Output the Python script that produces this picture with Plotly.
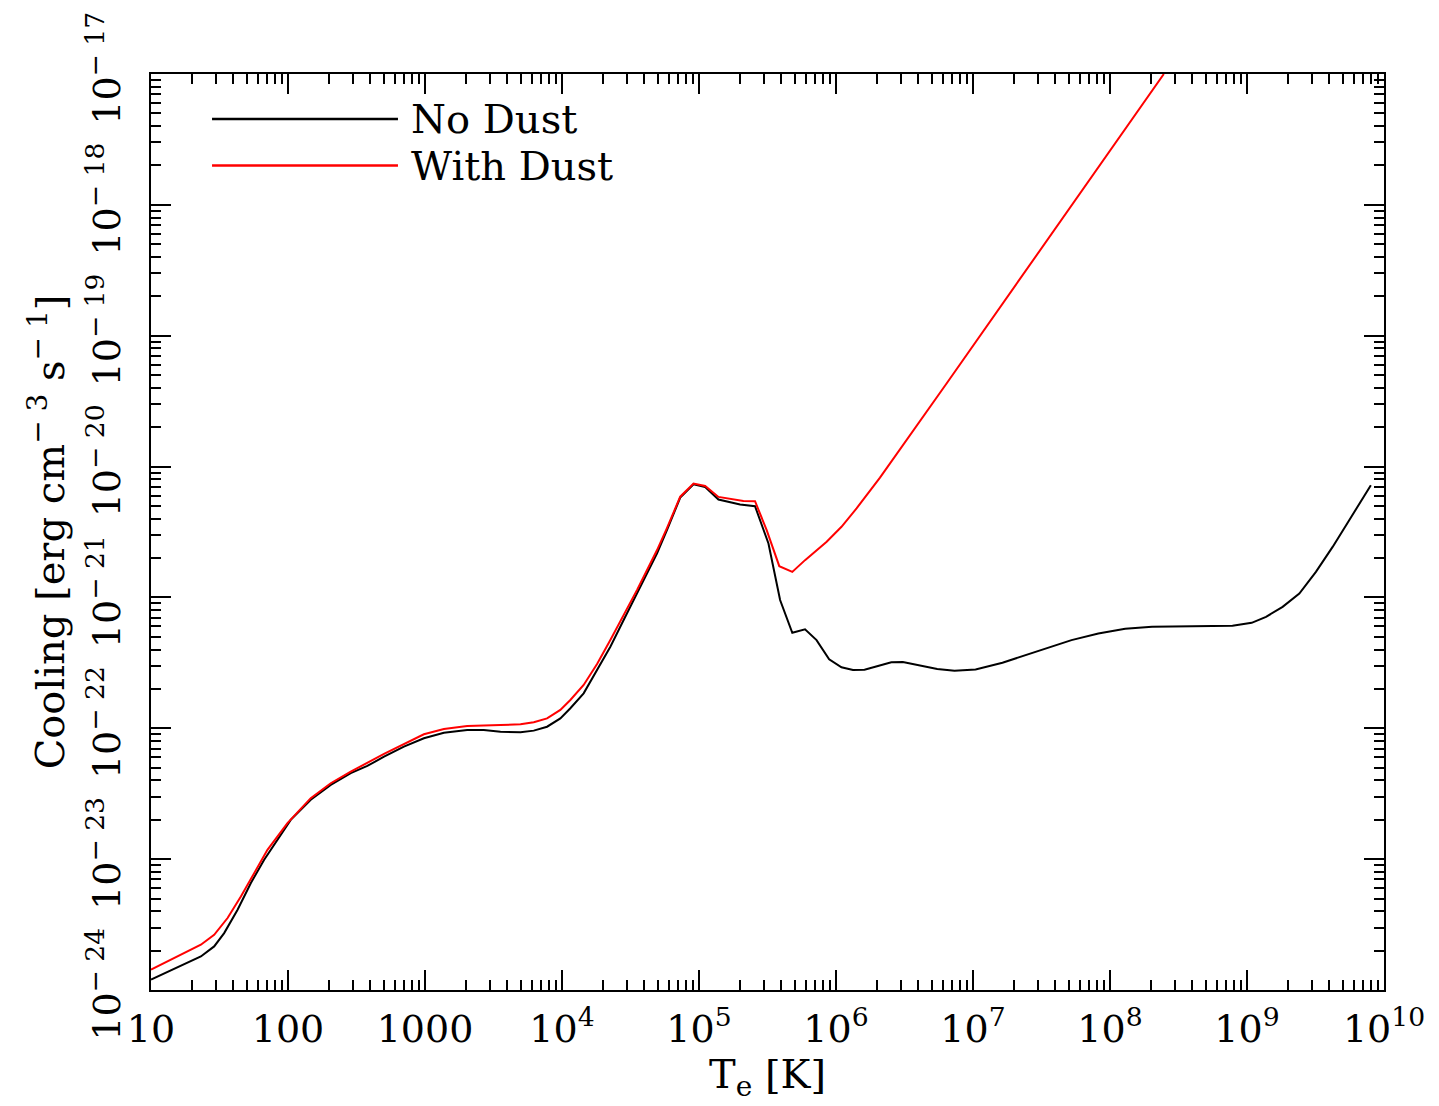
import numpy as np
import plotly.graph_objects as go

# Cooling rate vs. electron temperature, with and without dust (log10 values)
log_te_nodust = [1.0, 1.364, 1.461, 1.534, 1.632, 1.729, 1.826, 1.923, 2.020, 2.166,
                 2.312, 2.458, 2.579, 2.701, 2.846, 2.992, 3.138, 3.308, 3.429, 3.551,
                 3.697, 3.794, 3.891, 3.988, 4.061, 4.158, 4.256, 4.353, 4.450, 4.547,
                 4.693, 4.766, 4.863, 4.960, 5.045, 5.142, 5.300, 5.409, 5.507, 5.592,
                 5.681, 5.774, 5.858, 5.950, 6.040, 6.124, 6.208, 6.306, 6.404, 6.488,
                 6.599, 6.739, 6.865, 7.019, 7.215, 7.467, 7.719, 7.915, 8.111, 8.307,
                 8.531, 8.727, 8.894, 9.034, 9.139, 9.260, 9.382, 9.503, 9.625, 9.746,
                 9.843, 9.904]
log_cool_nodust = [-23.920, -23.744, -23.667, -23.565, -23.387, -23.183, -23.005, -22.853, -22.700, -22.546,
                   -22.433, -22.343, -22.288, -22.217, -22.140, -22.076, -22.034, -22.013, -22.013, -22.026,
                   -22.031, -22.018, -21.988, -21.924, -21.847, -21.733, -21.555, -21.377, -21.173, -20.970,
                   -20.664, -20.486, -20.237, -20.135, -20.156, -20.252, -20.290, -20.303, -20.588, -21.020,
                   -21.270, -21.244, -21.326, -21.473, -21.534, -21.555, -21.553, -21.524, -21.496, -21.494,
                   -21.519, -21.547, -21.560, -21.550, -21.499, -21.415, -21.326, -21.275, -21.240, -21.224,
                   -21.221, -21.224, -21.217, -21.194, -21.148, -21.072, -20.970, -20.805, -20.614, -20.410,
                   -20.244, -20.143]

log_te_dust = [1.0, 1.364, 1.461, 1.559, 1.656, 1.753, 1.850, 1.996, 2.166, 2.312,
               2.458, 2.701, 2.846, 2.992, 3.138, 3.308, 3.551, 3.697, 3.794, 3.891,
               3.988, 4.061, 4.158, 4.256, 4.353, 4.450, 4.547, 4.693, 4.766, 4.863,
               4.960, 5.045, 5.142, 5.324, 5.409, 5.494, 5.586, 5.681, 5.774, 5.932,
               6.040, 6.150, 6.321, 6.807, 7.292, 7.778, 8.393]
log_cool_dust = [-23.845, -23.654, -23.578, -23.450, -23.285, -23.107, -22.929, -22.725, -22.534, -22.420,
                 -22.331, -22.196, -22.120, -22.046, -22.005, -21.982, -21.975, -21.970, -21.954, -21.924,
                 -21.860, -21.784, -21.669, -21.509, -21.326, -21.135, -20.944, -20.640, -20.470, -20.230,
                 -20.130, -20.148, -20.232, -20.263, -20.265, -20.486, -20.761, -20.805, -20.715, -20.575,
                 -20.460, -20.320, -20.085, -19.365, -18.640, -17.915, -17.000]

x_tick_exp = [1, 2, 3, 4, 5, 6, 7, 8, 9, 10]
x_tick_text = ["10", "100", "1000", "10<sup>4</sup>", "10<sup>5</sup>", "10<sup>6</sup>",
               "10<sup>7</sup>", "10<sup>8</sup>", "10<sup>9</sup>", "10<sup>10</sup>"]
y_tick_exp = [-24, -23, -22, -21, -20, -19, -18, -17]
y_tick_text = ["10<sup>\u2212 24</sup>", "10<sup>\u2212 23</sup>", "10<sup>\u2212 22</sup>",
               "10<sup>\u2212 21</sup>", "10<sup>\u2212 20</sup>", "10<sup>\u2212 19</sup>",
               "10<sup>\u2212 18</sup>", "10<sup>\u2212 17</sup>"]

series_names = ["No Dust", "With Dust"]
series_colors = ["#000000", "#ff0000"]

FONT = "DejaVu Serif"
FS = 38
FS_TEXT = 40

x_major = [10.0 ** e for e in x_tick_exp]
y_major = [10.0 ** e for e in y_tick_exp]
x_minor = [k * 10.0 ** e for e in x_tick_exp[:-1] for k in range(2, 10)]
y_minor = [k * 10.0 ** e for e in y_tick_exp[:-1] for k in range(2, 10)]

fig = go.Figure()
fig.add_trace(go.Scatter(
    x=10.0 ** np.array(log_te_nodust), y=10.0 ** np.array(log_cool_nodust),
    mode="lines", line=dict(color=series_colors[0], width=2), name=series_names[0],
    showlegend=False))
fig.add_trace(go.Scatter(
    x=10.0 ** np.array(log_te_dust), y=10.0 ** np.array(log_cool_dust),
    mode="lines", line=dict(color=series_colors[1], width=2), name=series_names[1],
    showlegend=False))

axis_common = dict(
    type="log", showgrid=False, zeroline=False,
    showline=True, linewidth=2, linecolor="black", mirror="allticks",
    ticks="inside", ticklen=20, tickwidth=2, tickcolor="black",
    tickfont=dict(family=FONT, size=FS, color="black"),
)

fig.update_xaxes(
    **axis_common, range=[1, 10], tickmode="array", tickvals=x_major, ticktext=x_tick_text,
    ticklabelstandoff=4,
    minor=dict(tickmode="array", tickvals=x_minor, ticks="inside", ticklen=10,
               tickwidth=1.5, tickcolor="black"),
    title=dict(text="T<sub>e</sub> [K]", font=dict(family=FONT, size=FS_TEXT, color="black"),
               standoff=2),
)
fig.update_yaxes(
    **axis_common, range=[-24, -17], tickmode="array", tickvals=y_major, ticktext=y_tick_text,
    tickangle=-90, ticklabelstandoff=14,
    minor=dict(tickmode="array", tickvals=y_minor, ticks="inside", ticklen=10,
               tickwidth=1.5, tickcolor="black"),
    title=dict(text="Cooling [erg cm<sup>\u2212 3</sup> s<sup>\u2212 1</sup>]",
               font=dict(family=FONT, size=FS_TEXT, color="black"), standoff=2),
)

# Legend drawn as sample lines with labels in the upper-left corner
legend_rows = [0.9509, 0.9001]
for name, color, yy in zip(series_names, series_colors, legend_rows):
    fig.add_shape(type="line", xref="paper", yref="paper", x0=0.0495, x1=0.2003,
                  y0=yy, y1=yy, line=dict(color=color, width=2.5))
    fig.add_annotation(xref="paper", yref="paper", x=0.2095, y=yy, text=name,
                       showarrow=False, xanchor="left", yanchor="middle",
                       font=dict(family=FONT, size=FS_TEXT, color="black"))

fig.update_layout(
    width=1439, height=1106,
    margin=dict(l=151, r=55, t=74, b=116, autoexpand=False),
    paper_bgcolor="white", plot_bgcolor="white",
    font=dict(family=FONT, size=FS, color="black"),
)

fig.write_html("out.html")
